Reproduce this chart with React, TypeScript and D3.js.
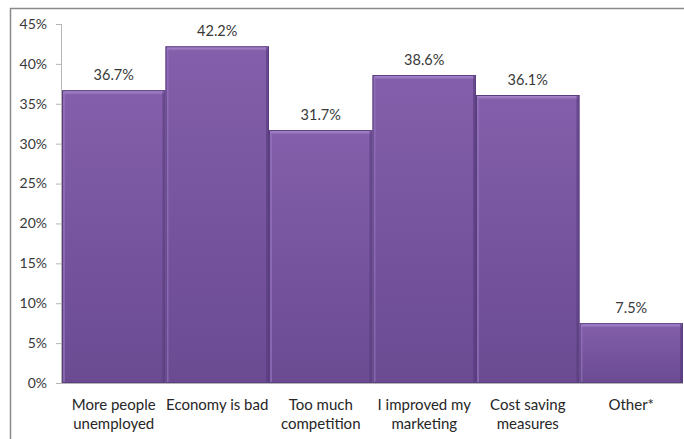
import React from "react";
import * as d3 from "d3";

const categories: string[][] = [
  ["More people", "unemployed"],
  ["Economy is bad"],
  ["Too much", "competition"],
  ["I improved my", "marketing"],
  ["Cost saving", "measures"],
  ["Other*"],
];
const values: number[] = [36.7, 42.2, 31.7, 38.6, 36.1, 7.5];
const yTicks: number[] = [0, 5, 10, 15, 20, 25, 30, 35, 40, 45];

const W = 684;
const H = 439;
const left = 62;
const right = 683;
const top = 24;
const bottom = 383;
const font = "Lato, 'Open Sans', sans-serif";

export default function App() {
  const x = d3
    .scaleBand<number>()
    .domain(values.map((_, i) => i))
    .range([left, right])
    .paddingInner(0)
    .paddingOuter(0);
  const y = d3.scaleLinear().domain([0, 45]).range([bottom, top]);

  return (
    <svg
      width={W}
      height={H}
      style={{ position: "absolute", left: 0, top: 0, background: "#fff" }}
    >
      <defs>
        <linearGradient id="barGrad" x1="0" y1="0" x2="0" y2="1">
          <stop offset="0" stopColor="#845fab" />
          <stop offset="1" stopColor="#6a4b92" />
        </linearGradient>
        <linearGradient id="topBevel" x1="0" y1="0" x2="0" y2="1">
          <stop offset="0" stopColor="#b497d6" />
          <stop offset="1" stopColor="#8b66b2" />
        </linearGradient>
      </defs>
      {/* outer border */}
      <line x1={10} y1={8.5} x2={W} y2={8.5} stroke="#8a8a8a" strokeWidth={1.5} />
      <line x1={10.5} y1={8} x2={10.5} y2={H} stroke="#8a8a8a" strokeWidth={1.5} />

      {/* y axis */}
      <line x1={left - 0.5} y1={top} x2={left - 0.5} y2={bottom} stroke="#b5b5b5" />
      {yTicks.map((t) => (
        <g key={t}>
          <line x1={left - 6} x2={left} y1={y(t) + 0.5} y2={y(t) + 0.5} stroke="#b5b5b5" />
          <text
            x={47}
            y={y(t)}
            dy="0.35em"
            textAnchor="end"
            fontFamily={font}
            fontSize={14}
            fill="#383838"
          >
            {t}%
          </text>
        </g>
      ))}

      {/* bars */}
      {values.map((v, i) => {
        const bx = x(i)!;
        const bw = x.bandwidth();
        const by = y(v);
        const bh = bottom - by;
        return (
          <g key={i}>
            <rect x={bx} y={by} width={bw} height={bh} fill="url(#barGrad)" />
            <rect x={bx + 1} y={by} width={bw - 2} height={4} fill="url(#topBevel)" />
            <rect x={bx + 1} y={by + 1} width={2} height={bh - 2} fill="#9878bf" opacity={0.6} />
            <rect x={bx + bw - 3} y={by + 1} width={2} height={bh - 2} fill="#55397a" opacity={0.6} />
            <rect
              x={bx + 0.5}
              y={by + 0.5}
              width={bw - 1}
              height={bh - 1}
              fill="none"
              stroke="#5a3e80"
              strokeWidth={1}
            />
            <text
              x={bx + bw / 2}
              y={by - 10}
              textAnchor="middle"
              fontFamily={font}
              fontSize={14.5}
              fill="#383838"
            >
              {v.toFixed(1)}%
            </text>
            {categories[i].map((line, j) => (
              <text
                key={j}
                x={bx + bw / 2}
                y={410 + j * 19}
                textAnchor="middle"
                fontFamily={font}
                fontSize={15}
                fill="#262626"
              >
                {line}
              </text>
            ))}
          </g>
        );
      })}
      {/* x axis */}
      <line x1={left - 1} x2={right} y1={bottom + 0.5} y2={bottom + 0.5} stroke="#b5b5b5" />
    </svg>
  );
}
